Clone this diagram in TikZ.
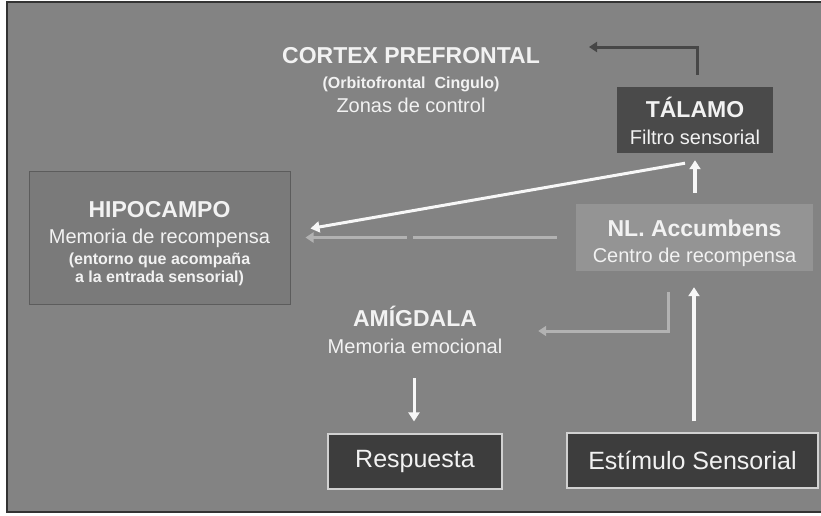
\documentclass[tikz,border=0pt]{standalone}
\usepackage{fontspec}
\setmainfont{Liberation Sans}
\usetikzlibrary{arrows.meta}

\definecolor{fondo}{gray}{0.515}
\definecolor{marco}{gray}{0.2}
\definecolor{texto}{gray}{0.95}
\definecolor{talamogris}{gray}{0.29}
\definecolor{nlgris}{gray}{0.58}
\definecolor{hipogris}{gray}{0.48}
\definecolor{hipoborde}{gray}{0.36}
\definecolor{cajaoscura}{gray}{0.24}
\definecolor{bordeclaro}{gray}{0.82}
\definecolor{blanco}{gray}{0.97}
\definecolor{grisclaro}{gray}{0.70}
\definecolor{grisoscuro}{gray}{0.28}

\newcommand\titulo{\bfseries\fontsize{23}{27}\selectfont}
\newcommand\subtitulo{\fontsize{20}{27}\selectfont}
\newcommand\nota{\bfseries\fontsize{16}{27}\selectfont}

\begin{document}
\begin{tikzpicture}[x=1pt,y=-1pt,
    caja/.style ={rectangle, inner sep=2pt, align=center, text=texto,
                  font=\fontsize{20}{27}\selectfont},
    region/.style ={caja, fill=hipogris, draw=hipoborde, line width=1pt},
    terminal/.style ={caja, fill=cajaoscura, draw=bordeclaro, line width=1.2pt,
                  font=\fontsize{25}{27}\selectfont},
    flechablanca/.style ={draw=blanco, line width=3.5pt, -{Triangle[length=9pt,width=11pt]}},
    flechagris/.style ={draw=grisclaro, line width=3pt, -{Triangle[length=8pt,width=10pt]}},
    flechaoscura/.style ={draw=grisoscuro, line width=3pt, -{Triangle[length=8pt,width=10pt]}}]
   \useasboundingbox (0,0) rectangle (821,515);
   \fill[white] (0,0) rectangle (821,515);
   \fill[fondo] (7,2) rectangle (821,512);
   \draw[marco, line width=2pt] (821,2) -- (7,2) -- (7,512) -- (821,512);

   \node[caja] (cortex) at (411,80.5)
     {{\titulo CORTEX PREFRONTAL}\\[-2pt]{\nota (Orbitofrontal\ \ Cingulo)}\\[-3pt]{\subtitulo Zonas de control}};
   \node[caja, fill=talamogris, minimum width=156, minimum height=66] (talamo) at (695,120)
     {{\titulo\rule{0pt}{23pt}TÁLAMO}\\{\subtitulo Filtro sensorial}};
   \node[region, minimum width=261, minimum height=133] (hipocampo) at (159.5,237.5)
     {{\titulo\rule{0pt}{29pt}HIPOCAMPO}\\[-1pt]{\subtitulo Memoria de recompensa}\\[-6pt]{\nota (entorno que acompaña}\\[-9pt]{\nota a la entrada sensorial)}};
   \node[caja, fill=nlgris, minimum width=237, minimum height=67] (nl) at (694.5,237.5)
     {{\titulo\rule{0pt}{28pt}NL. Accumbens}\\[-1pt]{\subtitulo Centro de recompensa}};
   \node[caja, minimum width=200, minimum height=84] (amigdala) at (415,330)
     {{\titulo AMÍGDALA}\\{\subtitulo Memoria emocional}};
   \node[terminal, minimum width=174, minimum height=55] (respuesta) at (415,461.5) {Respuesta};
   \node[terminal, minimum width=251, minimum height=55] (estimulo) at (692.5,460.5) {Estímulo Sensorial};
   \coordinate (cortexfin) at (589,47);

   \draw[flechaoscura] ([shift={(2,-12)}]talamo.north) |- (cortexfin);
   \draw[flechablanca] ([shift={(0.5,-11)}]nl.north) to ([shift={(0,7)}]talamo.south);
   \draw[flechablanca, line width=3pt] ([shift={(-10,10)}]talamo.south) to ([shift={(20,-9)}]hipocampo.east);
   \draw[flechagris, dash pattern=on 144pt off 6pt on 400pt] ([shift={(-19,0)}]nl.west) to ([shift={(15,0)}]hipocampo.east);
   \draw[flechagris] ([shift={(-26,21)}]nl.south) |- ([shift={(23,1)}]amigdala.east);
   \draw[flechablanca] ([shift={(1.5,-11)}]estimulo.north) to ([shift={(-0.5,16)}]nl.south);
   \draw[flechablanca, line width=3pt] ([shift={(-1,6)}]amigdala.south) to ([shift={(-1,-12)}]respuesta.north);
 \end{tikzpicture}
\end{document}
